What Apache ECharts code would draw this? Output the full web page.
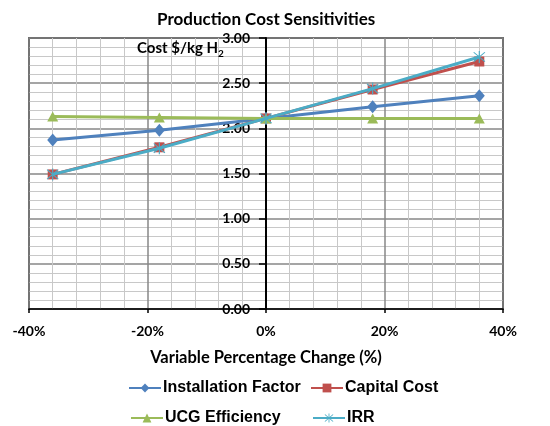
<!DOCTYPE html>
<html>
<head>
<meta charset="utf-8">
<script src="https://cdn.jsdelivr.net/npm/echarts@6/dist/echarts.min.js"></script>
<style>
  html, body { margin: 0; padding: 0; background: #fff; }
  #chart { width: 550px; height: 426px; }
</style>
</head>
<body>
<div id="chart"></div>
<script>
// Percentage change applied to each input variable
const changes = [-36, -18, 0, 18, 36];

// Production cost ($/kg H2) for each sensitivity case
const installationFactor = [1.87, 1.98, 2.11, 2.24, 2.36];
const capitalCost = [1.49, 1.79, 2.11, 2.43, 2.74];
const ucgEfficiency = [2.13, 2.12, 2.11, 2.11, 2.11];
const irr = [1.49, 1.78, 2.11, 2.44, 2.79];

const seriesNames = ['Installation Factor', 'Capital Cost', 'UCG Efficiency', 'IRR'];
const seriesColors = ['#4F81BD', '#C0504D', '#9BBB59', '#4BACC6'];

// Asterisk marker: vertical bar plus two diagonals
const asterisk = 'path://M9.2 0 L10.8 0 L10.8 20 L9.2 20 Z M1.6 2.7 L2.7 1.6 L18.4 17.3 L17.3 18.4 Z M17.3 1.6 L18.4 2.7 L2.7 18.4 L1.6 17.3 Z';
const symbols = ['diamond', 'rect', 'triangle', asterisk];
const symbolSizes = [[11, 13], 10, [11, 10], 12];
const values = [installationFactor, capitalCost, ucgEfficiency, irr];

// Plot rectangle
const plotLeft = 29, plotRight = 47, plotTop = 38, plotBottom = 117;
const plotWidth = 550 - plotLeft - plotRight;
const xMin = -40, xMax = 40;
// Shift the value axis from the left edge to the 0% position
const yAxisShift = plotWidth * (0 - xMin) / (xMax - xMin);

const chart = echarts.init(document.getElementById('chart'), null, { renderer: 'canvas' });

const series = seriesNames.map((name, i) => ({
  name,
  type: 'line',
  data: changes.map((x, j) => [x, values[i][j]]),
  symbol: symbols[i],
  symbolSize: symbolSizes[i],
  showAllSymbol: true,
  lineStyle: { color: seriesColors[i], width: 3 },
  itemStyle: { color: seriesColors[i], borderWidth: 0 },
  emphasis: { disabled: true },
  animation: false,
  z: 3 + i
}));

// One legend block per entry, laid out in two rows
const legendSpots = [
  { left: 123, top: 375 },
  { left: 305, top: 375 },
  { left: 125, top: 405 },
  { left: 307, top: 405 }
];
const legends = seriesNames.map((name, i) => ({
  data: [name],
  left: legendSpots[i].left,
  top: legendSpots[i].top,
  itemWidth: 32,
  itemHeight: 11,
  itemGap: 0,
  selectedMode: false,
  textStyle: {
    fontFamily: 'Liberation Sans',
    fontWeight: 'bold',
    fontSize: 16,
    color: '#000',
    padding: [0, 0, 0, -3]
  }
}));

const tickFont = { fontFamily: 'Lato', fontWeight: 'bold', fontSize: 14, color: '#000' };

chart.setOption({
  backgroundColor: '#fff',
  animation: false,
  title: {
    text: 'Production Cost Sensitivities',
    left: 152,
    top: 6,
    textStyle: { fontFamily: 'Lato', fontWeight: 'bold', fontSize: 17, color: '#000' }
  },
  legend: legends,
  grid: {
    left: plotLeft, right: plotRight, top: plotTop, bottom: plotBottom,
    show: true, borderColor: '#000', borderWidth: 1.5, backgroundColor: 'transparent'
  },
  xAxis: {
    type: 'value',
    min: xMin, max: xMax, interval: 20,
    axisLine: { show: true, onZero: false, lineStyle: { color: '#000', width: 1.5 } },
    axisTick: { show: true, length: 4, lineStyle: { color: '#000', width: 1.5 } },
    axisLabel: { ...tickFont, margin: 15, formatter: v => v + '%' },
    splitLine: { show: true, lineStyle: { color: '#878787', width: 1.5 } },
    minorTick: { show: false, splitNumber: 5 },
    minorSplitLine: { show: true, lineStyle: { color: '#c8c8c8', width: 1 } },
    name: 'Variable Percentage Change (%)',
    nameLocation: 'middle',
    nameGap: 40,
    nameTextStyle: { fontFamily: 'Lato', fontWeight: 'bold', fontSize: 16.5, color: '#000' }
  },
  yAxis: {
    type: 'value',
    position: 'left',
    offset: -yAxisShift,
    min: 0, max: 3, interval: 0.5,
    axisLine: { show: true, onZero: false, lineStyle: { color: '#000', width: 2 } },
    axisTick: { show: true, length: 7, lineStyle: { color: '#000', width: 1.5 } },
    axisLabel: { ...tickFont, margin: 16, formatter: v => v.toFixed(2) },
    splitLine: { show: true, lineStyle: { color: '#878787', width: 1.5 } },
    minorTick: { show: false, splitNumber: 5 },
    minorSplitLine: { show: true, lineStyle: { color: '#c8c8c8', width: 1 } }
  },
  graphic: [{
    type: 'text',
    left: 137,
    top: 41,
    z: 10,
    style: {
      text: '{m|Cost $/kg H}{s|2}',
      rich: {
        m: { fontFamily: 'Lato', fontWeight: 'bold', fontSize: 15, fill: '#000' },
        s: { fontFamily: 'Lato', fontWeight: 'bold', fontSize: 10, fill: '#000', padding: [10, 0, 0, 0] }
      }
    }
  }],
  series
});
</script>
</body>
</html>
